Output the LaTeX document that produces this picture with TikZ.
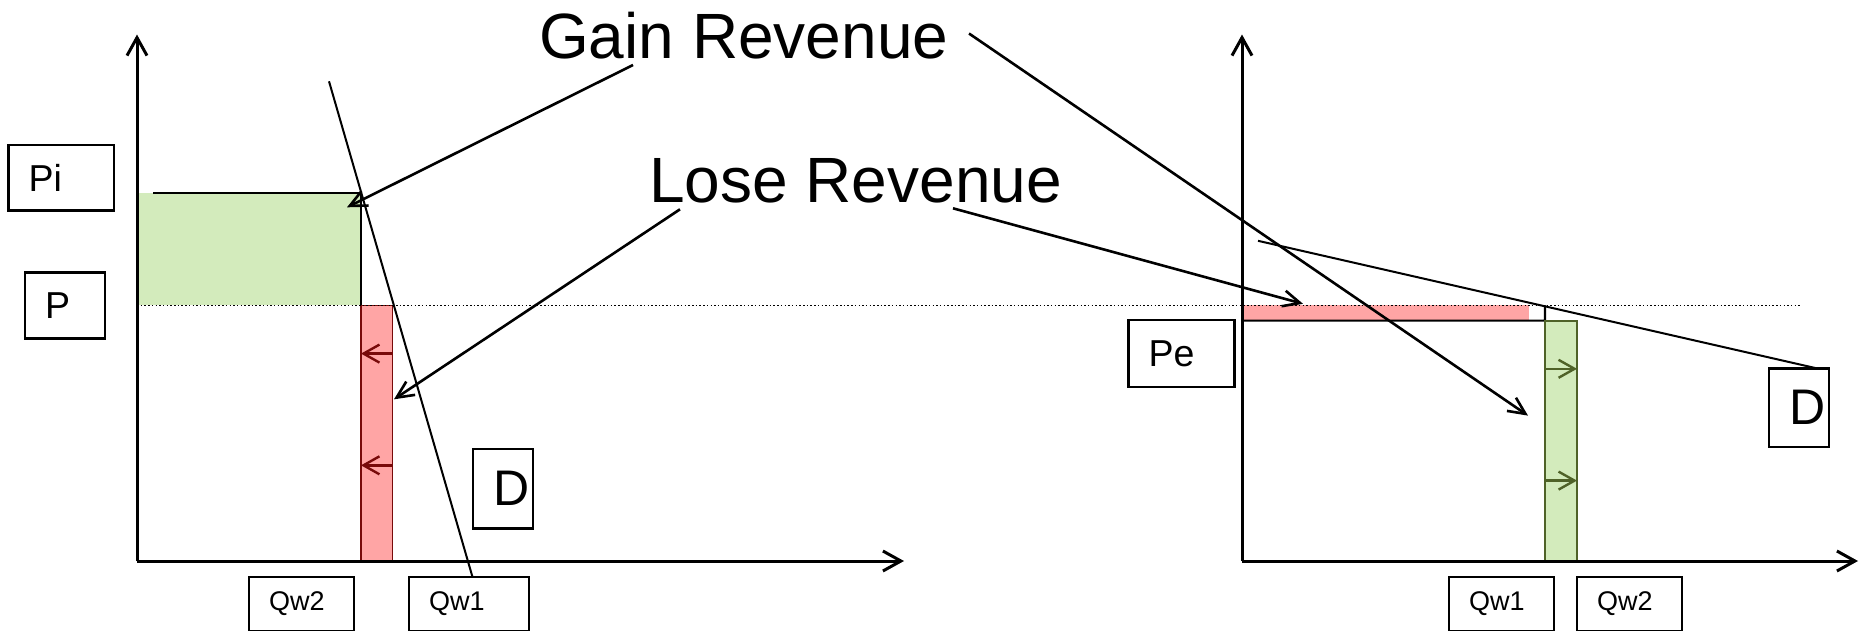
\documentclass[tikz,border=0pt]{standalone}
\usepackage{fontspec}
\setmainfont{Liberation Sans}
\usetikzlibrary{arrows.meta}

\definecolor{gainfill}{RGB}{211,235,188}
\definecolor{losefill}{RGB}{255,165,165}
\definecolor{loseedge}{RGB}{120,10,10}
\definecolor{gainedge}{RGB}{79,98,40}

\begin{document}
\begin{tikzpicture}[
    x=1pt, y=-1pt,
    axisline/.style={line width=3pt, -{Straight Barb[length=18pt, width=20pt]}},
    demand/.style={line width=2pt},
    callout/.style={line width=2.6pt, -{Straight Barb[length=17pt, width=16pt]}},
    nudge/.style={line width=2.4pt, -{Straight Barb[length=16pt, width=18pt]}},
    area/.style={inner sep=0pt, outer sep=0pt, anchor=north west},
    tag/.style={draw, line width=2.7pt, anchor=north west, inner xsep=20pt, inner ysep=0pt, outer sep=0pt, align=left},
    small/.style={font=\fontsize{27}{30}\selectfont},
    mid/.style={font=\fontsize{37.5}{40}\selectfont},
    large/.style={font=\fontsize{50}{54}\selectfont},
    big/.style={font=\fontsize{64}{70}\selectfont, inner sep=0pt, anchor=base west}
  ]
  \useasboundingbox (0,0) rectangle (1860,630);

  % --- Left chart: price up from P to Pi ---
  \node[area, fill=gainfill, minimum width=224pt, minimum height=112.3pt] (gainL) at (137,193) {};
  \node[area, fill=losefill, draw=loseedge, line width=1.5pt, minimum width=31.6pt, minimum height=255.7pt] (loseL) at (361,305.3) {};
  \foreach \d in {48.3,160} {
    \draw[nudge, loseedge] ([yshift=-\d pt]loseL.north east) -- ([yshift=-\d pt]loseL.north west);
  }
  \draw[line width=1.5pt] (gainL.north east) -- (gainL.south east);
  \draw[line width=2.2pt] ([xshift=16pt]gainL.north west) -- (gainL.north east);

  \coordinate (oL) at (137,561);
  \coordinate (yL) at (137,34.5);
  \coordinate (xL) at (904,561);
  \draw[axisline] (oL) -- (yL);
  \draw[axisline] (oL) -- (xL);

  \coordinate (dL1) at (329,81.3);
  \coordinate (dL2) at (472.5,577);
  \draw[demand] (dL1) -- (dL2);

  \node[tag, mid, text width=65.5pt, minimum height=65.7pt] (pi) at (8.5,145) {Pi};
  \node[tag, mid, text width=40pt, minimum height=65.6pt] (p) at (25,272.7) {P};
  \node[tag, small, text width=65pt, minimum height=54pt] (qw2L) at (249,577) {Qw2};
  \node[tag, small, text width=80pt, minimum height=54pt] (qw1L) at (409,577) {Qw1};
  \node[tag, large, text width=20pt, minimum height=79.4pt] (dL) at (473,449) {D};

  % --- Right chart: price down to Pe ---
  \node[area, fill=losefill, minimum width=287pt, minimum height=15.3pt] (loseR) at (1242,305.3) {};
  \coordinate (pL) at (137,305.3);
  \coordinate (pR) at (1801,305.3);
  \coordinate (peR) at (1545,320.6);
  \draw[line width=2.2pt] (loseR.south west) -- (peR) -- (peR |- pR);
  \node[area, fill=gainfill, draw=gainedge, line width=2.2pt, minimum width=32pt, minimum height=240.4pt] (gainR) at (peR) {};
  \foreach \d in {48.2,160} {
    \draw[nudge, gainedge] ([yshift=-\d pt]gainR.north west) -- ([yshift=-\d pt]gainR.north east);
  }

  \coordinate (oR) at (1242,561);
  \coordinate (yR) at (1242,34.5);
  \coordinate (xR) at (1858,561);
  \draw[axisline] (oR) -- (yR);
  \draw[axisline] (oR) -- (xR);

  \coordinate (dR1) at (1258,240.8);
  \coordinate (dR2) at (1817,368.4);
  \draw[demand] (dR1) -- (dR2);

  \node[tag, mid, text width=66pt, minimum height=67pt] (pe) at (1128.5,320) {Pe};
  \node[tag, small, text width=65pt, minimum height=54pt] (qw1R) at (1449,577) {Qw1};
  \node[tag, small, text width=65pt, minimum height=54pt] (qw2R) at (1577,577) {Qw2};
  \node[tag, large, text width=20pt, minimum height=78.7pt] (dR) at (1769,368.4) {D};

  % old price level
  \draw[line width=1.6pt, dash pattern=on 1.5pt off 2.2pt] (pL) -- (pR);

  % --- Labels and pointers ---
  \node[big] (gain) at (539,58) {Gain Revenue};
  \node[big] (lose) at (649,202) {Lose Revenue};

  \coordinate (g1) at (633,65);
  \coordinate (g2) at (969,33.5);
  \coordinate (l1) at (680,209.3);
  \coordinate (l2) at (953,208.3);
  \coordinate (gainTipL) at (347,207.3);
  \coordinate (gainTipR) at (1528,415.6);
  \coordinate (loseTipL) at (394,399.3);
  \coordinate (loseTipR) at (1303,303.8);
  \draw[callout] (g1) -- (gainTipL);
  \draw[callout] (g2) -- (gainTipR);
  \draw[callout] (l1) -- (loseTipL);
  \draw[callout] (l2) -- (loseTipR);

\end{tikzpicture}
\end{document}
